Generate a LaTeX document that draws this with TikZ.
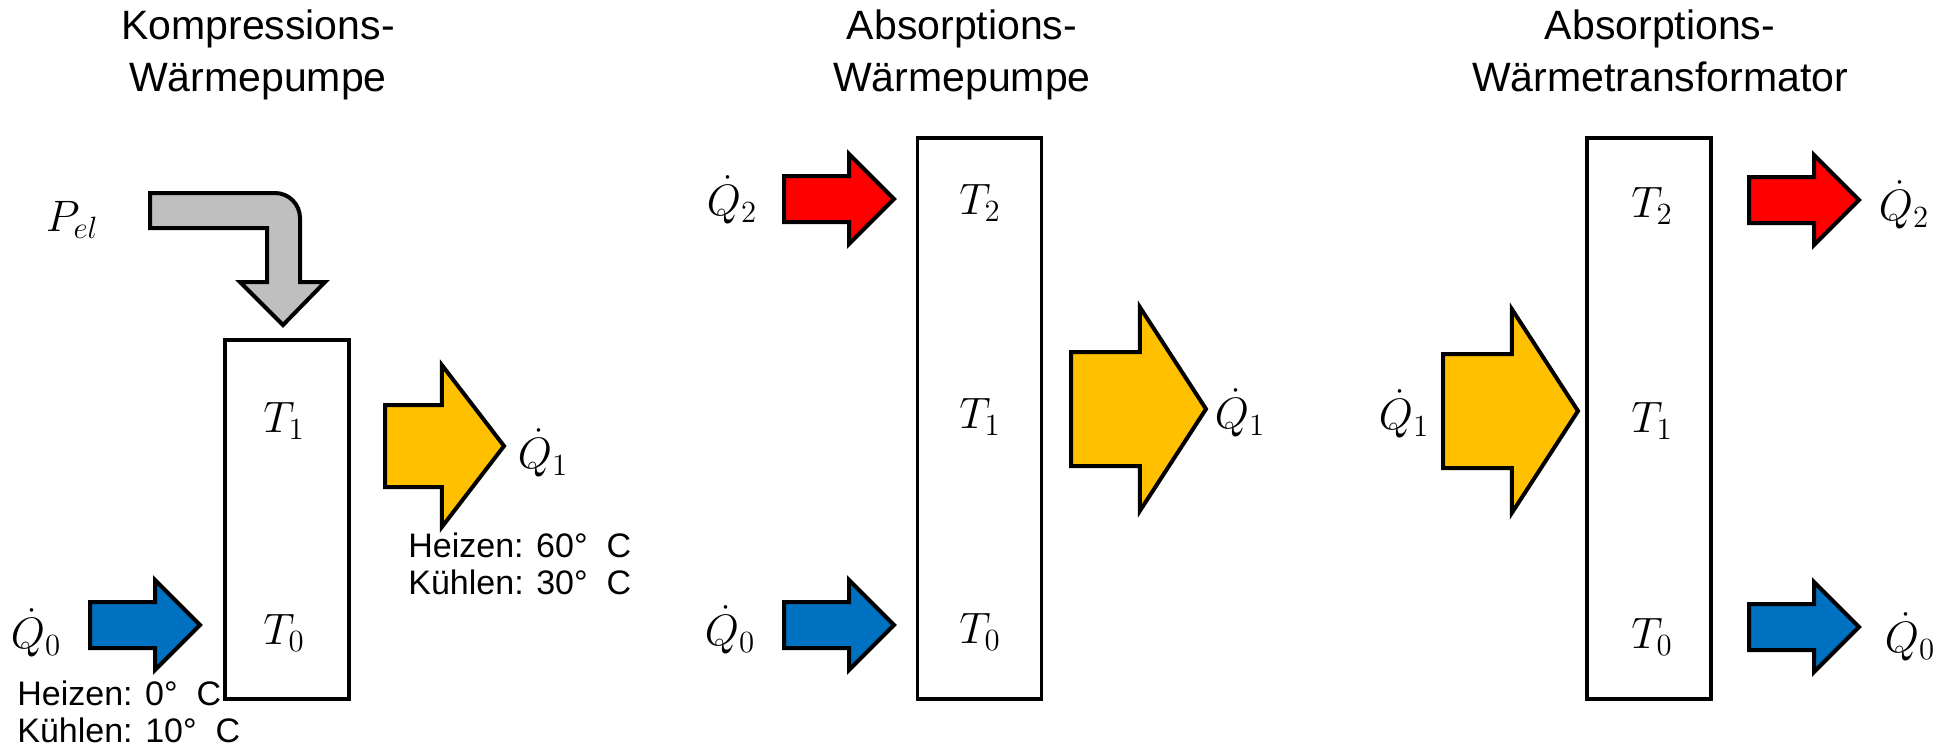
\RequirePackage{fix-cm}
\documentclass[tikz,border=0pt]{standalone}
\usepackage{fontspec}
\setmainfont{Liberation Sans}
\usetikzlibrary{positioning,shapes.arrows}
\definecolor{heatred}{RGB}{255,0,0}
\definecolor{heatyellow}{RGB}{255,192,0}
\definecolor{heatblue}{RGB}{0,112,192}
\definecolor{powergrey}{RGB}{191,191,191}
\newcommand{\degC}[1]{#1°\ \ C}

\begin{document}
\begin{tikzpicture}[x=0.5pt, y=-0.5pt,
    title/.style={font=\fontsize{20.5}{26}\selectfont, align=center, inner sep=0pt},
    note/.style={font=\fontsize{17}{18.5}\selectfont, align=left, inner sep=0pt, anchor=north west},
    mth/.style={font=\fontsize{22}{26}\selectfont, inner sep=0pt},
    machine/.style={draw, line width=1.75pt, minimum width=62pt, inner sep=0pt, anchor=north},
    heat/.style={single arrow, draw=black, line width=2pt, inner xsep=0pt, anchor=tail},
    smallheat/.style={heat, minimum height=55pt, inner ysep=10.5pt,
                      single arrow head extend=11pt, single arrow tip angle=90},
    midheat/.style={heat, minimum height=59.5pt, inner ysep=19.5pt,
                    single arrow head extend=20pt, single arrow tip angle=105},
    bigheat/.style={heat, minimum height=67.5pt, inner ysep=27.5pt,
                    single arrow head extend=22.5pt, single arrow tip angle=114}
  ]
  \useasboundingbox (0,0) rectangle (1941,750);

  % ================= KOMPRESSIONS-WAERMEPUMPE =================
  \node[title, anchor=north] (kwptitle) at (258,9) {Kompressions-\\Wärmepumpe};
  \node[machine, minimum height=179.5pt] (kwp) at (287,338) {};
  \node[mth] (kwpT1) at (284,421) {$T_1$};
  \node[mth] (kwpT0) at (284,633) {$T_0$};

  % electric drive, bent arrow
  \draw[line width=2pt, fill=powergrey, line join=miter]
    (150,193) -- (275,193) .. controls (288.8,193) and (300,204.2) .. (300,218)
    -- (300,282) -- (325,282) -- (283,325) -- (240,282) -- (267,282)
    -- (267,228) -- (150,228) -- cycle;
  \node[mth] (pel) at (72,220) {$P_{el}$};

  \node[smallheat, fill=heatblue] (kwpin) at (88,625) {};
  \node[mth] (kwpQ0) at (36,633) {$\dot{Q}_0$};
  \node[note] (kwpcold) at (17,680.5) {Heizen: \degC{0}\\Kühlen: \degC{10}};

  \node[midheat, fill=heatyellow] (kwpout) at (383,446) {};
  \node[mth] (kwpQ1) at (543,453) {$\dot{Q}_1$};
  \node[note] (kwpwarm) at (408,532) {Heizen: \degC{60}\\Kühlen: \degC{30}};

  % ================= ABSORPTIONS-WAERMEPUMPE =================
  \node[title, anchor=north] (awptitle) at (962,9) {Absorptions-\\Wärmepumpe};
  \node[machine, minimum height=280.5pt] (awp) at (979.5,136) {};
  \node[mth] (awpT2) at (980,203) {$T_2$};
  \node[mth] (awpT1) at (980,417) {$T_1$};
  \node[mth] (awpT0) at (980,632) {$T_0$};

  \node[smallheat, fill=heatred]  (awpin2) at (782,199) {};
  \node[smallheat, fill=heatblue] (awpin0) at (782,625) {};
  \node[mth] (awpQ2) at (732,200) {$\dot{Q}_2$};
  \node[mth] (awpQ0) at (730,630) {$\dot{Q}_0$};

  \node[bigheat, fill=heatyellow] (awpout) at (1069,409) {};
  \node[mth] (awpQ1) at (1240,413) {$\dot{Q}_1$};

  % ================= ABSORPTIONS-WAERMETRANSFORMATOR =================
  \node[title, anchor=north] (awttitle) at (1660,9) {Absorptions-\\Wärmetransformator};
  \node[machine, minimum height=280.5pt] (awt) at (1649,136) {};
  \node[mth] (awtT2) at (1652,206) {$T_2$};
  \node[mth] (awtT1) at (1652,421) {$T_1$};
  \node[mth] (awtT0) at (1652,637) {$T_0$};

  \node[bigheat, fill=heatyellow] (awtin) at (1441,411) {};
  \node[mth] (awtQ1) at (1404,414) {$\dot{Q}_1$};

  \node[smallheat, fill=heatred]  (awtout2) at (1747,200) {};
  \node[smallheat, fill=heatblue] (awtout0) at (1747,627) {};
  \node[mth] (awtQ2) at (1904,205) {$\dot{Q}_2$};
  \node[mth] (awtQ0) at (1910,637) {$\dot{Q}_0$};
\end{tikzpicture}
\end{document}
